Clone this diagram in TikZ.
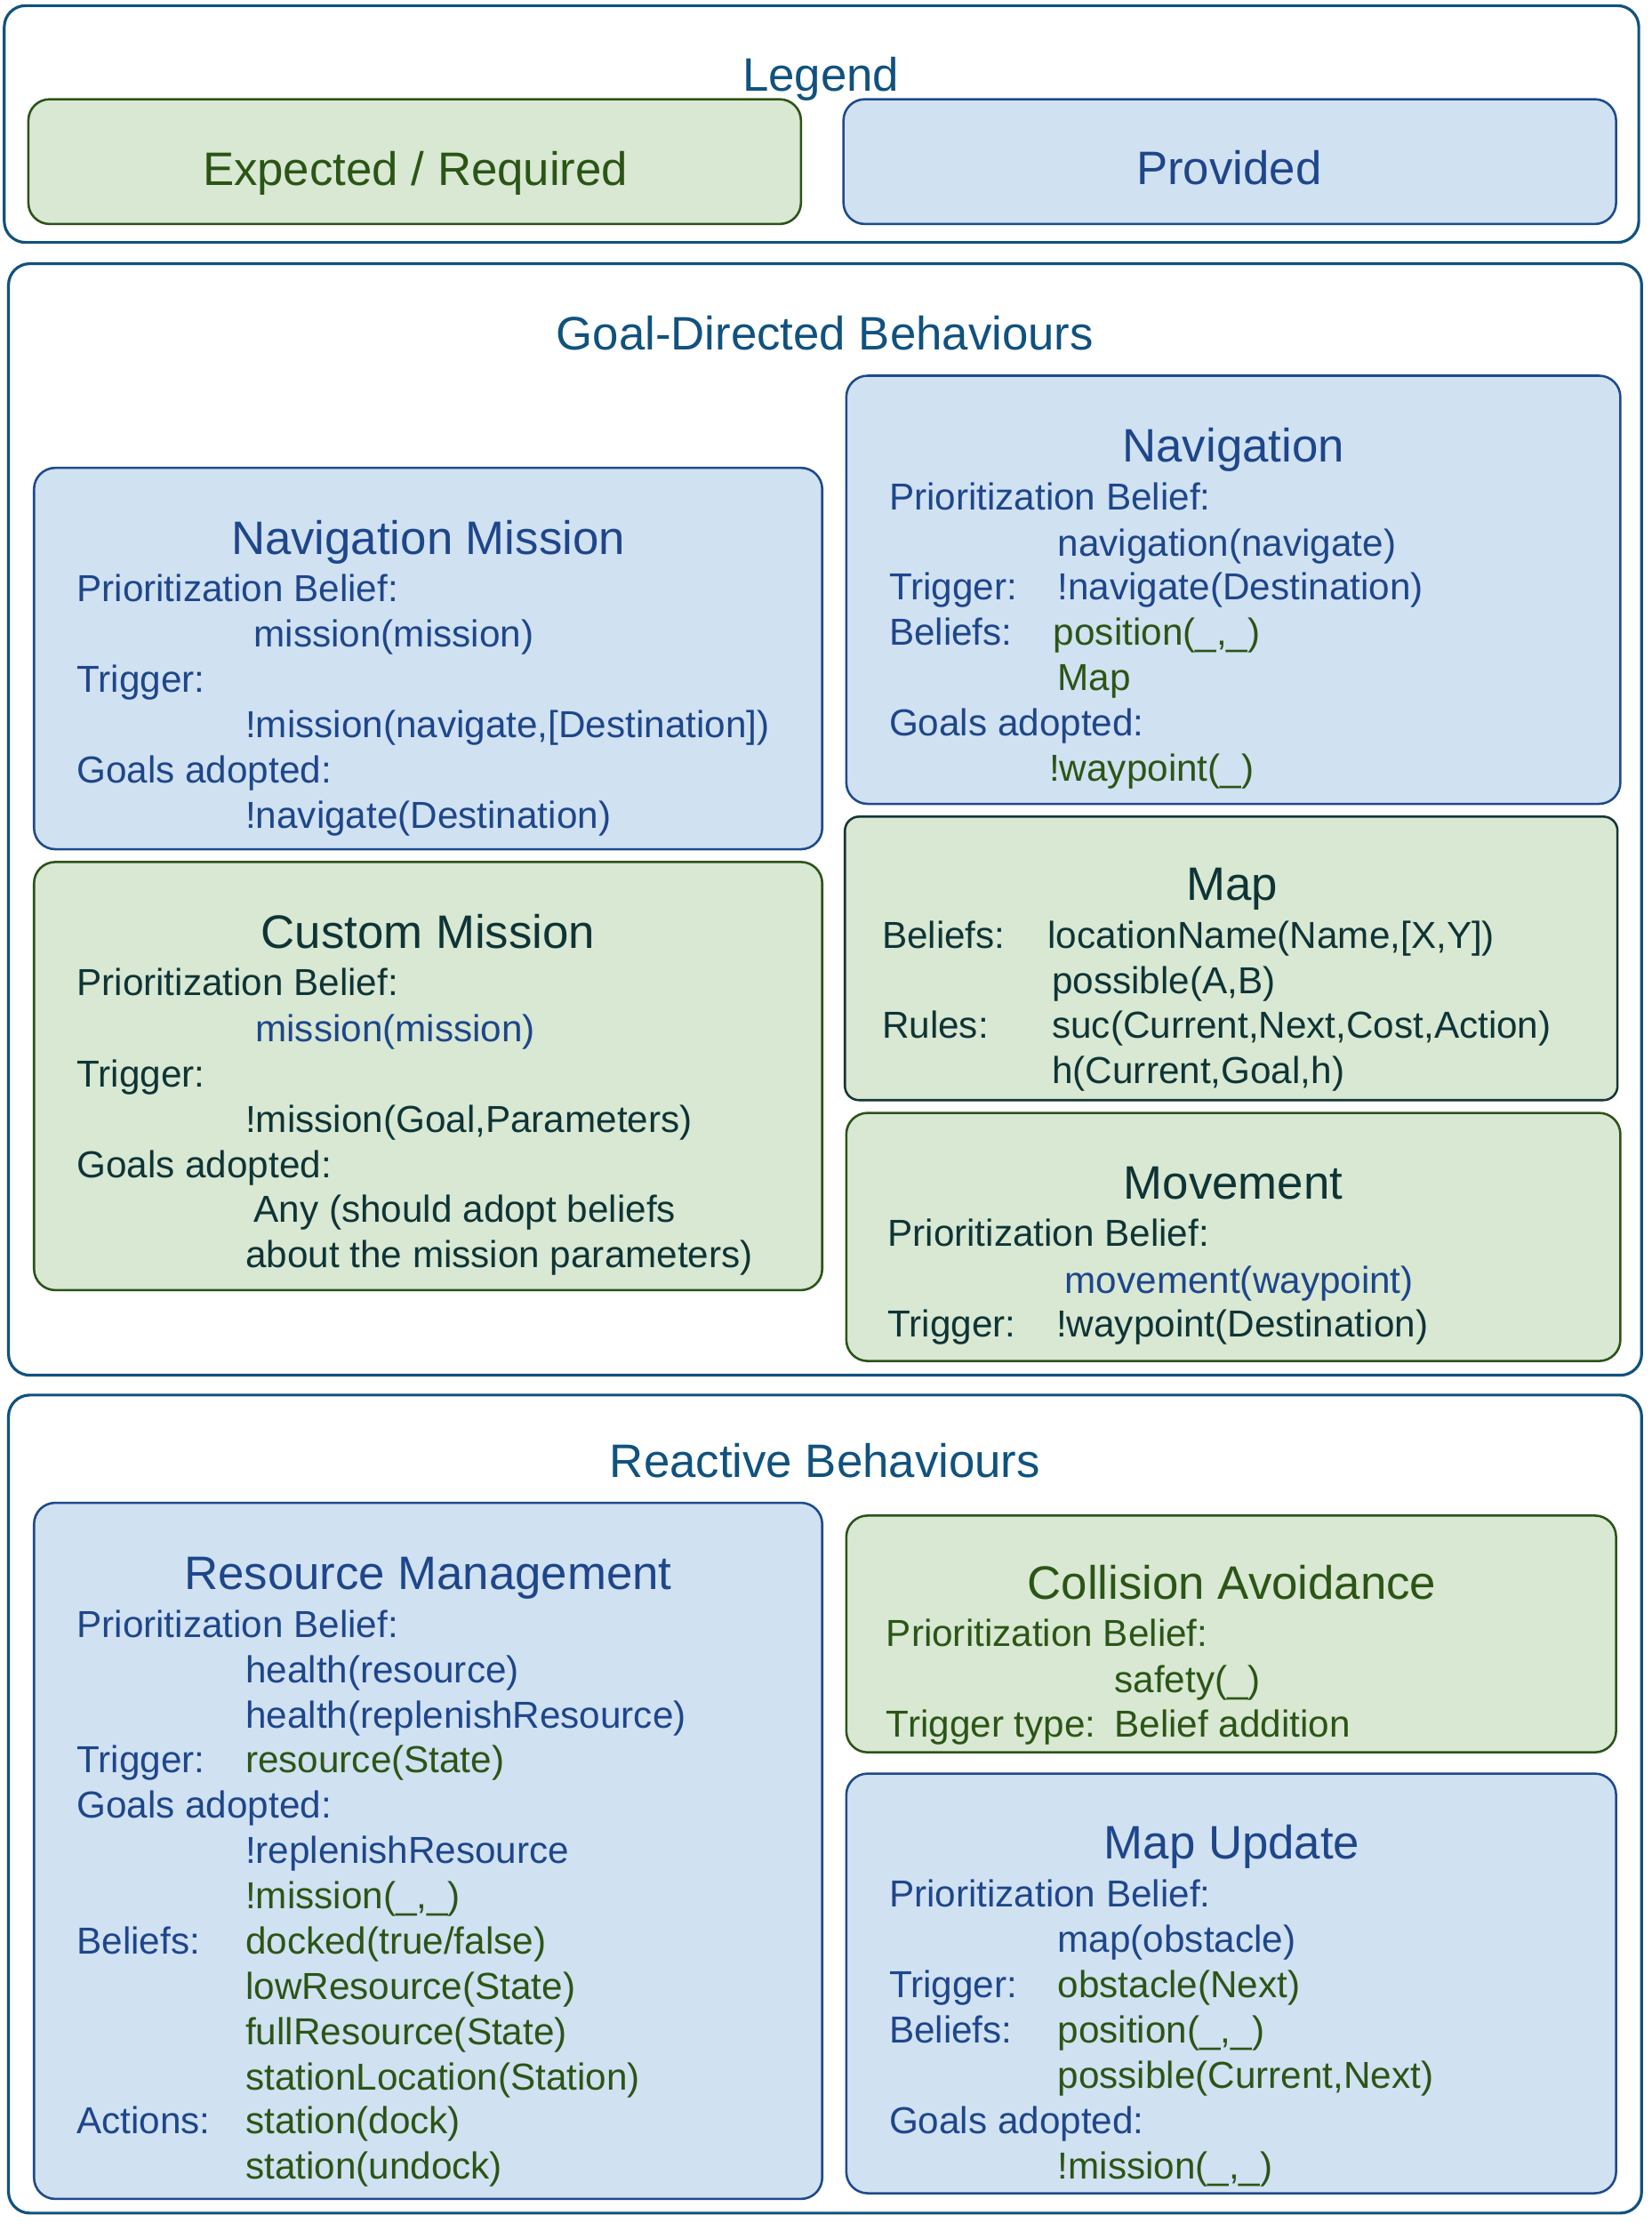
\documentclass[tikz,border=0pt]{standalone}
\usepackage{fontspec}
\setmainfont{Liberation Sans}
\definecolor{outerc}{HTML}{10527F}
\definecolor{bfill}{HTML}{D0E1F2}
\definecolor{bdraw}{HTML}{1E4A8C}
\definecolor{btext}{HTML}{1E468A}
\definecolor{gfill}{HTML}{D8E8D3}
\definecolor{gdraw}{HTML}{2D5318}
\definecolor{gtext}{HTML}{2B5515}
\definecolor{dtext}{HTML}{0F3436}
\definecolor{ddraw}{HTML}{163638}
\newcommand{\ttlfont}{\fontsize{33.1}{36}\selectfont}
\newcommand{\bodyfont}{\fontsize{26.5}{30}\selectfont}
\tikzset{
  outerbox/.style={draw=outerc, fill=white, line width=2pt, rounded corners=15pt, inner sep=0pt, outer sep=0pt},
  bluebox/.style={draw=bdraw, fill=bfill, line width=1.6pt, rounded corners=15pt, inner sep=0pt, outer sep=0pt},
  greenbox/.style={draw=gdraw, fill=gfill, line width=1.6pt, rounded corners=15pt, inner sep=0pt, outer sep=0pt},
  mapbox/.style={draw=ddraw, fill=gfill, line width=1.6pt, rounded corners=10pt, inner sep=0pt, outer sep=0pt},
  ttl/.style={anchor=base, font=\ttlfont, inner sep=0pt},
  txt/.style={anchor=base west, font=\bodyfont, inner sep=0pt},
}
\begin{document}
\begin{tikzpicture}[x=1pt,y=-1pt]
\useasboundingbox (0,0) rectangle (1165,1568);

% ---------- Legend ----------
\node[outerbox, minimum width=1153pt, minimum height=167pt] (legend) at (579.5,87.5) {};
\node[ttl, text=outerc] (legendt) at (579,64) {Legend};
\node[greenbox, minimum width=545pt, minimum height=88pt] (lgreen) at (292.5,114) {};
\node[ttl, text=gtext] (lgreent) at (293,131) {Expected / Required};
\node[bluebox, minimum width=545pt, minimum height=88pt] (lblue) at (867.5,114) {};
\node[ttl, text=btext] (lbluet) at (867,130) {Provided};

% ---------- Goal-Directed ----------
\node[outerbox, minimum width=1152pt, minimum height=784pt] (goal) at (582,578) {};
\node[ttl, text=outerc] (goalt) at (582,247) {Goal-Directed Behaviours};

% Navigation Mission
\node[bluebox, minimum width=556pt, minimum height=269pt] (navm) at (302,464.5) {};
\node[ttl, text=btext] (navmt) at (302,391) {Navigation Mission};
\node[txt, text=btext] (navm1) at (54,424) {Prioritization Belief:};
\node[txt, text=btext] (navm2) at (179,456) {mission(mission)};
\node[txt, text=btext] (navm3) at (54,488) {Trigger:};
\node[txt, text=btext] (navm4) at (173,520) {!mission(navigate,[Destination])};
\node[txt, text=btext] (navm5) at (54,552) {Goals adopted:};
\node[txt, text=btext] (navm6) at (173,584) {!navigate(Destination)};

% Custom Mission
\node[greenbox, minimum width=556pt, minimum height=302pt] (cust) at (302,759) {};
\node[ttl, text=dtext] (custt) at (302,669) {Custom Mission};
\node[txt, text=dtext] (cust1) at (54,702) {Prioritization Belief:};
\node[txt, text=btext] (cust2) at (180,735) {mission(mission)};
\node[txt, text=dtext] (cust3) at (54,767) {Trigger:};
\node[txt, text=dtext] (cust4) at (173,799) {!mission(Goal,Parameters)};
\node[txt, text=dtext] (cust5) at (54,831) {Goals adopted:};
\node[txt, text=dtext] (cust6) at (179,862) {Any (should adopt beliefs};
\node[txt, text=dtext] (cust7) at (173,894) {about the mission parameters)};

% Navigation
\node[bluebox, minimum width=546pt, minimum height=302pt] (nav) at (870,416) {};
\node[ttl, text=btext] (navt) at (870,326) {Navigation};
\node[txt, text=btext] (nav1) at (627,360) {Prioritization Belief:};
\node[txt, text=btext] (nav2) at (746,392) {navigation(navigate)};
\node[txt, text=btext] (nav3) at (627,423) {Trigger:};
\node[txt, text=btext] (nav4) at (746,423) {!navigate(Destination)};
\node[txt, text=btext] (nav5) at (627,455) {Beliefs:};
\node[txt, text=gtext] (nav6) at (743,455) {position(\_,\_)};
\node[txt, text=gtext] (nav7) at (746,487) {Map};
\node[txt, text=btext] (nav8) at (627,519) {Goals adopted:};
\node[txt, text=gtext] (nav9) at (740,551) {!waypoint(\_)};

% Map
\node[mapbox, minimum width=545pt, minimum height=200pt] (map) at (868.5,676) {};
\node[ttl, text=dtext] (mapt) at (869,635) {Map};
\node[txt, text=dtext] (map1) at (622,669) {Beliefs:};
\node[txt, text=dtext] (map2) at (739,669) {locationName(Name,[X,Y])};
\node[txt, text=dtext] (map3) at (742,701) {possible(A,B)};
\node[txt, text=dtext] (map4) at (622,732) {Rules:};
\node[txt, text=dtext] (map5) at (742,732) {suc(Current,Next,Cost,Action)};
\node[txt, text=dtext] (map6) at (742,764) {h(Current,Goal,h)};

% Movement
\node[greenbox, minimum width=546pt, minimum height=175pt] (mov) at (870,872.5) {};
\node[ttl, text=dtext] (movt) at (870,846) {Movement};
\node[txt, text=dtext] (mov1) at (626,879) {Prioritization Belief:};
\node[txt, text=btext] (mov2) at (751,912) {movement(waypoint)};
\node[txt, text=dtext] (mov3) at (626,943) {Trigger:};
\node[txt, text=dtext] (mov4) at (745,943) {!waypoint(Destination)};

% ---------- Reactive ----------
\node[outerbox, minimum width=1152pt, minimum height=577pt] (react) at (582,1272.5) {};
\node[ttl, text=outerc] (reactt) at (582,1042) {Reactive Behaviours};

% Resource Management
\node[bluebox, minimum width=556pt, minimum height=491pt] (res) at (302,1305.5) {};
\node[ttl, text=btext] (rest) at (302,1121) {Resource Management};
\node[txt, text=btext] (res1) at (54,1155) {Prioritization Belief:};
\node[txt, text=btext] (res2) at (173,1187) {health(resource)};
\node[txt, text=btext] (res3) at (173,1219) {health(replenishResource)};
\node[txt, text=btext] (res4) at (54,1250) {Trigger:};
\node[txt, text=gtext] (res5) at (173,1250) {resource(State)};
\node[txt, text=btext] (res6) at (54,1282) {Goals adopted:};
\node[txt, text=btext] (res7) at (173,1314) {!replenishResource};
\node[txt, text=gtext] (res8) at (173,1346) {!mission(\_,\_)};
\node[txt, text=btext] (res9) at (54,1378) {Beliefs:};
\node[txt, text=gtext] (res10) at (173,1378) {docked(true/false)};
\node[txt, text=gtext] (res11) at (173,1410) {lowResource(State)};
\node[txt, text=gtext] (res12) at (173,1442) {fullResource(State)};
\node[txt, text=gtext] (res13) at (173,1474) {stationLocation(Station)};
\node[txt, text=btext] (res14) at (54,1505) {Actions:};
\node[txt, text=gtext] (res15) at (173,1505) {station(dock)};
\node[txt, text=gtext] (res16) at (173,1537) {station(undock)};

% Collision Avoidance
\node[greenbox, minimum width=543pt, minimum height=167pt] (col) at (868.5,1152.5) {};
\node[ttl, text=gtext] (colt) at (869,1128) {Collision Avoidance};
\node[txt, text=gtext] (col1) at (625,1161) {Prioritization Belief:};
\node[txt, text=gtext] (col2) at (786,1194) {safety(\_)};
\node[txt, text=gtext] (col3) at (625,1225) {Trigger type:};
\node[txt, text=gtext] (col4) at (786,1225) {Belief addition};

% Map Update
\node[bluebox, minimum width=543pt, minimum height=296pt] (mu) at (868.5,1399) {};
\node[ttl, text=btext] (mut) at (869,1311) {Map Update};
\node[txt, text=btext] (mu1) at (627,1345) {Prioritization Belief:};
\node[txt, text=btext] (mu2) at (746,1377) {map(obstacle)};
\node[txt, text=btext] (mu3) at (627,1409) {Trigger:};
\node[txt, text=gtext] (mu4) at (746,1409) {obstacle(Next)};
\node[txt, text=btext] (mu5) at (627,1441) {Beliefs:};
\node[txt, text=gtext] (mu6) at (746,1441) {position(\_,\_)};
\node[txt, text=gtext] (mu7) at (746,1473) {possible(Current,Next)};
\node[txt, text=btext] (mu8) at (627,1505) {Goals adopted:};
\node[txt, text=gtext] (mu9) at (746,1537) {!mission(\_,\_)};
\end{tikzpicture}
\end{document}
